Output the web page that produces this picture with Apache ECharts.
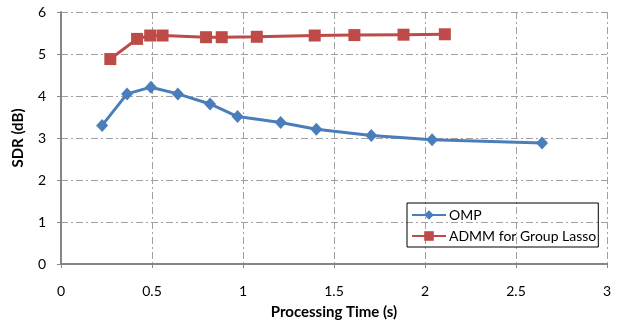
<!DOCTYPE html>
<html>
<head>
<meta charset="utf-8">
<script src="https://cdn.jsdelivr.net/npm/echarts@6/dist/echarts.min.js"></script>
<style>
  html, body { margin: 0; padding: 0; background: #fff; }
  #chart { width: 618px; height: 326px; }
</style>
</head>
<body>
<div id="chart"></div>
<script>
const ompTime = [0.226, 0.363, 0.494, 0.642, 0.819, 0.970, 1.207, 1.403, 1.705, 2.039, 2.643];
const ompSdr = [3.30, 4.05, 4.21, 4.05, 3.81, 3.51, 3.37, 3.21, 3.06, 2.96, 2.88];
const admmTime = [0.271, 0.418, 0.490, 0.558, 0.797, 0.883, 1.076, 1.394, 1.612, 1.882, 2.109];
const admmSdr = [4.88, 5.36, 5.44, 5.44, 5.40, 5.40, 5.41, 5.44, 5.45, 5.46, 5.47];

const font = 'Lato, "Open Sans", sans-serif';
const gridLine = { show: true, lineStyle: { color: '#a0a0a0', width: 1, type: [7, 3, 2, 3] } };

const chart = echarts.init(document.getElementById('chart'));
chart.setOption({
  animation: false,
  grid: { left: 61, right: 11, top: 12, bottom: 62 },
  xAxis: {
    type: 'value', min: 0, max: 3, interval: 0.5,
    name: 'Processing Time (s)', nameLocation: 'middle', nameGap: 41,
    nameTextStyle: { fontFamily: font, fontSize: 15, fontWeight: 'bold', color: '#000' },
    axisLine: { lineStyle: { color: '#868686', width: 2 } },
    axisTick: { show: true, length: 4, lineStyle: { color: '#868686' } },
    axisLabel: { fontFamily: font, fontSize: 14, color: '#000', margin: 20 },
    splitLine: gridLine
  },
  yAxis: {
    type: 'value', min: 0, max: 6, interval: 1,
    name: 'SDR (dB)', nameLocation: 'middle', nameGap: 35,
    nameTextStyle: { fontFamily: font, fontSize: 15, fontWeight: 'bold', color: '#000' },
    axisLine: { show: true, lineStyle: { color: '#868686', width: 2 } },
    axisTick: { show: true, length: 4, lineStyle: { color: '#868686' } },
    axisLabel: { fontFamily: font, fontSize: 14, color: '#000', margin: 15 },
    splitLine: gridLine
  },
  legend: {
    orient: 'vertical', left: 407, top: 203,
    padding: [5, 2, 4, 4],
    itemGap: 7,
    itemWidth: 34, itemHeight: 12,
    borderColor: '#000', borderWidth: 1,
    textStyle: { fontFamily: font, fontSize: 14, color: '#000', padding: [0, 0, 0, -2] },
    data: ['OMP', 'ADMM for Group Lasso']
  },
  series: [
    {
      name: 'OMP', type: 'line',
      data: ompTime.map((t, i) => [t, ompSdr[i]]),
      symbol: 'diamond', symbolSize: [12, 13],
      lineStyle: { color: '#4a7ebb', width: 3 },
      itemStyle: { color: '#4a7ebb' }
    },
    {
      name: 'ADMM for Group Lasso', type: 'line',
      data: admmTime.map((t, i) => [t, admmSdr[i]]),
      symbol: 'rect', symbolSize: 12,
      lineStyle: { color: '#be4b48', width: 3 },
      itemStyle: { color: '#be4b48' }
    }
  ]
});
</script>
</body>
</html>
